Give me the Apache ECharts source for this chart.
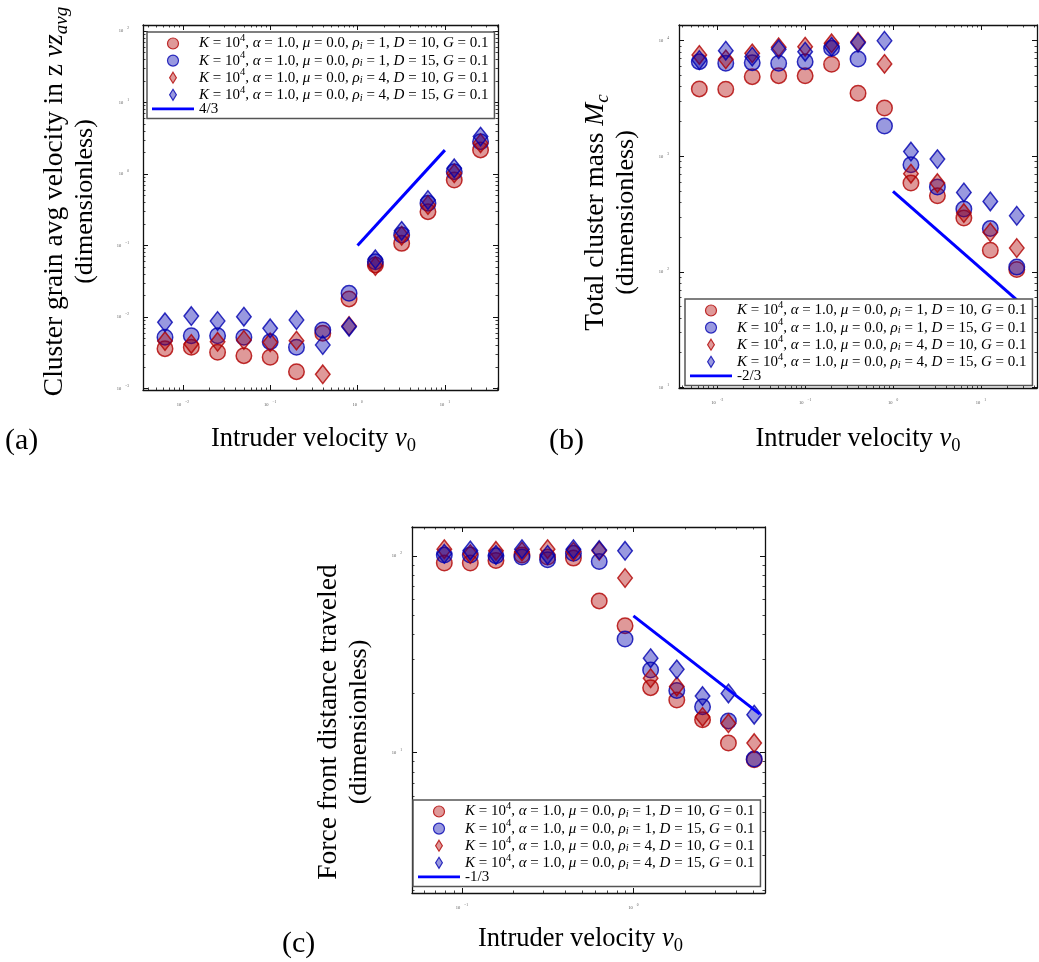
<!DOCTYPE html>
<html>
<head>
<meta charset="utf-8">
<title>Intruder velocity scans</title>
<script src="https://cdn.jsdelivr.net/npm/echarts@6.0.0/dist/echarts.min.js"></script>
<style>
  html, body { margin: 0; padding: 0; background: #fff; }
  #chart { width: 1039px; height: 962px; }
</style>
</head>
<body>
<div id="chart"></div>
<script>
// ---------------- data ----------------
// intruder velocities used in panels (a) and (b)
const velocityAB = [0.00625, 0.0125, 0.025, 0.05, 0.1, 0.2, 0.4, 0.8, 1.6, 3.2, 6.4, 12.8, 25.6];
// velocity values on the panel (c) axis
const velocityC = [0.079, 0.112, 0.158, 0.224, 0.316, 0.447, 0.632, 0.894, 1.26, 1.79, 2.53, 3.58, 5.06];

// run parameters (order: rho_i=1/D=10, rho_i=1/D=15, rho_i=4/D=10, rho_i=4/D=15)
const runRho = [1, 1, 4, 4];
const runD = [10, 15, 10, 15];
const runNames = [
  'K = 10^4, α = 1.0, μ = 0.0, ρi = 1, D = 10, G = 0.1',
  'K = 10^4, α = 1.0, μ = 0.0, ρi = 1, D = 15, G = 0.1',
  'K = 10^4, α = 1.0, μ = 0.0, ρi = 4, D = 10, G = 0.1',
  'K = 10^4, α = 1.0, μ = 0.0, ρi = 4, D = 15, G = 0.1'
];

// (a) cluster grain average velocity in z
const velRho1D10 = [0.00361, 0.00377, 0.00321, 0.00288, 0.00273, 0.00172, 0.00591, 0.0179, 0.0533, 0.107, 0.297, 0.824, 2.17];
const velRho1D15 = [0.0052, 0.00547, 0.00547, 0.0052, 0.00452, 0.00377, 0.00657, 0.0214, 0.0593, 0.140, 0.389, 1.077, 2.83];
const velRho4D10 = [0.0046, 0.0042, 0.0045, 0.00477, 0.00443, 0.00467, 0.00158, 0.00748, 0.0516, 0.137, 0.368, 1.02, 2.69];
const velRho4D15 = [0.00843, 0.0103, 0.00879, 0.0101, 0.00695, 0.00908, 0.00406, 0.00731, 0.0641, 0.160, 0.432, 1.20, 3.33];
const slopeA = [[1, 0.1], [10, 2.154]];

// (b) total cluster mass
const massRho1D10 = [3830, 3800, 4890, 4990, 4970, 6260, 3510, 2620, 587, 456, 293, 154, 105];
const massRho1D15 = [6590, 6380, 6460, 6380, 6590, 8590, 6950, 1830, 845, 542, 350, 237, 110];
const massRho4D10 = [7530, 6900, 7780, 8770, 8880, 9500, 9800, 6300, 707, 587, 323, 220, 161];
const massRho4D15 = [6810, 8200, 7280, 8430, 8040, 8880, 9610, 10000, 1100, 946, 487, 407, 306];
const slopeB = [[1, 497], [25.6, 57.2]];

// (c) force front distance traveled
const frontRho1D10 = [91.8, 91.8, 94.7, 101, 98.5, 97.3, 59.0, 44.1, 21.4, 18.5, 14.7, 11.2, 9.2];
const frontRho1D15 = [101, 101, 100, 98.5, 95.4, 103, 93.6, 37.8, 26.3, 20.7, 17.1, 14.5, 9.3];
const frontRho4D10 = [108, 102, 106, 105, 108, 105, 106, 77.1, 23.9, 21.7, 15.2, 14.1, 11.2];
const frontRho4D15 = [102.4, 106.4, 101, 108, 101, 108, 107, 106, 30.2, 26.5, 19.4, 20.0, 15.6];
const slopeC = [[1.0, 49.5], [5.46, 15.7]];

// major tick values of every panel
const aXTicks = [0.01, 0.1, 1, 10];
const aYTicks = [0.001, 0.01, 0.1, 1, 10, 100];
const bXTicks = [0.01, 0.1, 1, 10];
const bYTicks = [10, 100, 1000, 10000];
const cXTicks = [0.1, 1];
const cYTicks = [10, 100];

// ---------------- styling ----------------
const SERIF = '"Liberation Serif", "Times New Roman", serif';
const RED = '#b00000', BLUE = '#0000b0';
const markerStyles = [
  { symbol: 'circle', size: 15.5, edge: RED, fill: 'rgba(176,0,0,0.5)' },
  { symbol: 'circle', size: 15.5, edge: BLUE, fill: 'rgba(0,0,176,0.5)' },
  { symbol: 'diamond', size: [14.5, 18.5], edge: RED, fill: 'rgba(176,0,0,0.5)' },
  { symbol: 'diamond', size: [14.5, 18.5], edge: BLUE, fill: 'rgba(0,0,176,0.5)' }
];
const DIAMOND_ICON = 'path://M4,0L8,6.5L4,13L0,6.5Z';
const legendIcons = ['circle', 'circle', DIAMOND_ICON, DIAMOND_ICON];
const LINE_ICON = 'path://M0,0H42V2.6H0Z';

const tickRich = {
  b: { fontFamily: SERIF, fontSize: 4.5, color: '#555' },
  s: { fontFamily: SERIF, fontSize: 3.5, color: '#555', padding: [0, 0, 5, 4] }
};
function powLabel(v) {
  const e = Math.round(Math.log10(v));
  return '{b|10}{s|' + (e < 0 ? '\u2212' + (-e) : e) + '}';
}

const titleRich = {
  t: { fontFamily: SERIF, fontSize: 26, color: '#000', lineHeight: 30 },
  T: { fontFamily: SERIF, fontSize: 27.5, color: '#000', lineHeight: 30 },
  I: { fontFamily: SERIF, fontSize: 27.5, fontStyle: 'italic', color: '#000', lineHeight: 30 },
  i: { fontFamily: SERIF, fontSize: 26.5, fontStyle: 'italic', color: '#000', lineHeight: 30 },
  x: { fontFamily: SERIF, fontSize: 26.5, color: '#000', lineHeight: 30 },
  sub: { fontFamily: SERIF, fontSize: 19, fontStyle: 'italic', color: '#000', lineHeight: 30, padding: [14, 0, 0, 0] },
  subr: { fontFamily: SERIF, fontSize: 18.5, color: '#000', lineHeight: 30, padding: [14, 0, 0, 0] }
};
const xTitle = '{x|Intruder velocity }{i|v}{subr|0}';

const legendRich = {
  n: { fontFamily: SERIF, fontSize: 15, color: '#000', lineHeight: 14 },
  i: { fontFamily: SERIF, fontSize: 15, fontStyle: 'italic', color: '#000', lineHeight: 14 },
  sup: { fontFamily: SERIF, fontSize: 10.5, color: '#000', lineHeight: 14, padding: [0, 0, 10, 0] },
  sub: { fontFamily: SERIF, fontSize: 10.5, fontStyle: 'italic', color: '#000', lineHeight: 14, padding: [6, 0, 0, 0] }
};
function legendLabel(name) {
  const k = runNames.indexOf(name);
  if (k < 0) return '{n|' + name + '}';
  return '{i|K}{n| = 10}{sup|4}{n|, }{i|α}{n| = 1.0, }{i|μ}{n| = 0.0, }{i|ρ}{sub|i}{n| = ' + runRho[k] +
    ', }{i|D}{n| = ' + runD[k] + ', }{i|G}{n| = 0.1}';
}

// log-axis minor ticks at 2..9 x 10^n inside [min, max]
function minorTicks(min, max) {
  const out = [];
  for (let e = Math.floor(Math.log10(min)); e < Math.ceil(Math.log10(max)); e++) {
    for (let k = 2; k <= 9; k++) {
      const v = k * Math.pow(10, e);
      if (v > min && v < max) out.push(v);
    }
  }
  return out;
}

// four axes per direction: major+minor ticks on both sides, ticks pointing inward
function axesFor(dim, gi, min, max, majors, cfg) {
  const sides = dim === 'x' ? ['bottom', 'top'] : ['left', 'right'];
  const minors = minorTicks(min, max);
  const base = {
    type: 'log', logBase: 10, gridIndex: gi, min: min, max: max, silent: true,
    splitLine: { show: false }, minorTick: { show: false }, minorSplitLine: { show: false }
  };
  const list = [];
  sides.forEach(function (pos, si) {
    list.push(Object.assign({}, base, {
      position: pos,
      axisLine: { show: true, onZero: false, lineStyle: { color: '#111', width: 1.3 } },
      axisTick: { show: true, inside: true, length: 5, customValues: majors, lineStyle: { color: '#111', width: 1 } },
      axisLabel: si === 0
        ? { show: true, customValues: majors, margin: cfg.labelMargin, formatter: powLabel, rich: tickRich }
        : { show: false },
      name: si === 0 ? cfg.name : '',
      nameLocation: 'middle',
      nameGap: cfg.nameGap,
      nameRotate: dim === 'y' ? 90 : 0,
      nameTextStyle: {
        rich: titleRich, fontFamily: SERIF, fontSize: 26, color: '#000', lineHeight: 30,
        padding: cfg.namePad || 0
      }
    }));
    list.push(Object.assign({}, base, {
      position: pos,
      axisLine: { show: false },
      axisTick: { show: true, inside: true, length: 2.5, customValues: minors, lineStyle: { color: '#111', width: 0.8 } },
      axisLabel: { show: false }
    }));
  });
  return list;
}

const panels = [
  {
    grid: { left: 143, top: 25, width: 355, height: 365 },
    x: [0.0035, 40.55], y: [0.000953, 121], xTicks: aXTicks, yTicks: aYTicks, xs: velocityAB,
    ys: [velRho1D10, velRho1D15, velRho4D10, velRho4D15], slope: slopeA, slopeName: '4/3',
    yName: '{T|Cluster grain avg velocity in z }{I|vz}{sub|avg}\n{t|(dimensionless)}',
    yGap: 43, yPad: [0, 0, 0, 12], yLabelMargin: 14, xGap: 34, xPad: [0, 14, 0, 0],
    legend: { left: 147, top: 32 }
  },
  {
    grid: { left: 679, top: 25, width: 358, height: 363 },
    x: [0.00367, 43.5], y: [9.9, 13680], xTicks: bXTicks, yTicks: bYTicks, xs: velocityAB,
    ys: [massRho1D10, massRho1D15, massRho4D10, massRho4D15], slope: slopeB, slopeName: '-2/3',
    yName: '{T|Total cluster mass }{I|M}{sub|c}\n{t|(dimensionless)}',
    yGap: 38, yPad: [0, 12, 0, 0], yLabelMargin: 10, xGap: 36, xPad: 0,
    legend: { left: 685, top: 299 }
  },
  {
    grid: { left: 412, top: 527, width: 353, height: 366 },
    x: [0.0512, 5.85], y: [1.94, 140], xTicks: cXTicks, yTicks: cYTicks, xs: velocityC,
    ys: [frontRho1D10, frontRho1D15, frontRho4D10, frontRho4D15], slope: slopeC, slopeName: '-1/3',
    yName: '{T|Force front distance traveled}\n{t|(dimensionless)}',
    yGap: 38, yPad: [0, 24, 0, 0], yLabelMargin: 10, xGap: 31, xPad: [0, 16, 0, 0],
    legend: { left: 413, top: 800 }
  }
];

const grids = [], xAxes = [], yAxes = [], series = [], legends = [];
panels.forEach(function (p, gi) {
  grids.push(Object.assign({ containLabel: false, outerBoundsMode: 'none', show: false }, p.grid));
  const xi = xAxes.length, yi = yAxes.length;
  axesFor('x', gi, p.x[0], p.x[1], p.xTicks, { name: xTitle, nameGap: p.xGap, namePad: p.xPad, labelMargin: 10 })
    .forEach(function (a) { xAxes.push(a); });
  axesFor('y', gi, p.y[0], p.y[1], p.yTicks, { name: p.yName, nameGap: p.yGap, namePad: p.yPad, labelMargin: p.yLabelMargin })
    .forEach(function (a) { yAxes.push(a); });
  p.ys.forEach(function (vals, k) {
    const st = markerStyles[k];
    series.push({
      type: 'scatter', name: runNames[k], xAxisIndex: xi, yAxisIndex: yi,
      symbol: st.symbol, symbolSize: st.size, silent: true,
      itemStyle: { color: st.fill, borderColor: st.edge, borderWidth: 1.5 },
      data: p.xs.map(function (x, i) { return [x, vals[i]]; })
    });
  });
  series.push({
    type: 'line', name: p.slopeName, xAxisIndex: xi, yAxisIndex: yi,
    symbol: 'none', silent: true,
    lineStyle: { color: '#0000ff', width: 3 },
    itemStyle: { color: '#0000ff' },
    data: p.slope
  });
  legends.push({
    left: p.legend.left, top: p.legend.top, orient: 'vertical', selectedMode: false,
    itemWidth: 42, itemHeight: 11, itemGap: -3.9, padding: [1, 6, 2, 5],
    backgroundColor: '#fff', borderColor: '#555', borderWidth: 1.5, borderRadius: 0,
    itemStyle: { borderWidth: 1.2 },
    textStyle: { fontFamily: SERIF, fontSize: 15, color: '#000', rich: legendRich },
    formatter: legendLabel,
    data: runNames.map(function (n, k) { return { name: n, icon: legendIcons[k] }; })
      .concat([{ name: p.slopeName, icon: LINE_ICON, itemStyle: { borderWidth: 0 } }])
  });
});

const chart = echarts.init(document.getElementById('chart'), null, { renderer: 'canvas' });
chart.setOption({
  backgroundColor: '#fff',
  animation: false,
  grid: grids,
  xAxis: xAxes,
  yAxis: yAxes,
  legend: legends,
  series: series,
  graphic: [
    { type: 'text', x: 5, y: 441, style: { text: '(a)', fontFamily: SERIF, fontSize: 30, fill: '#000', verticalAlign: 'middle' } },
    { type: 'text', x: 549, y: 441, style: { text: '(b)', fontFamily: SERIF, fontSize: 30, fill: '#000', verticalAlign: 'middle' } },
    { type: 'text', x: 282, y: 944, style: { text: '(c)', fontFamily: SERIF, fontSize: 30, fill: '#000', verticalAlign: 'middle' } }
  ]
});
</script>
</body>
</html>
